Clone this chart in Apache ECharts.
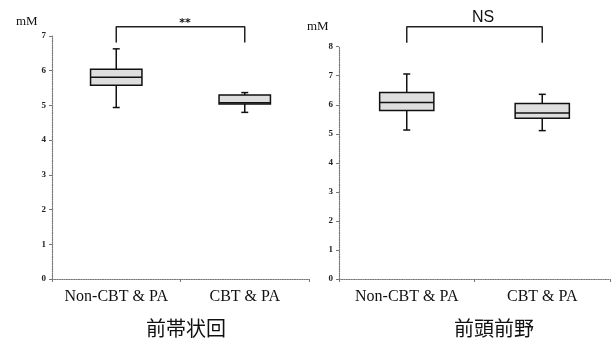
<!DOCTYPE html>
<html>
<head>
<meta charset="utf-8">
<script src="https://cdn.jsdelivr.net/npm/echarts@6/dist/echarts.min.js"></script>
<style>html,body{margin:0;padding:0;background:#fff}#c{width:611px;height:341px}</style>
</head>
<body>
<div id="c"></div>
<script>
// Data
var categories = ['Non-CBT & PA', 'CBT & PA'];
// [min, Q1, median, Q3, max]
var acgBoxes = [
  [4.94, 5.58, 5.81, 6.04, 6.63],
  [4.80, 5.04, 5.08, 5.30, 5.37]
];
var pfcBoxes = [
  [5.13, 5.80, 6.08, 6.42, 7.06],
  [5.11, 5.54, 5.72, 6.04, 6.36]
];
var acgTicks = [0, 1, 2, 3, 4, 5, 6, 7];
var pfcTicks = [0, 1, 2, 3, 4, 5, 6, 7, 8];
var acgTitle = '前帯状回';
var pfcTitle = '前頭前野';
var acgSig = '**';
var pfcSig = 'NS';
var unitLabel = 'mM';

var chart = echarts.init(document.getElementById('c'));

function boxRender(params, api) {
  var x = api.value(0);
  var mn = api.coord([x, api.value(1)]);
  var q1 = api.coord([x, api.value(2)]);
  var md = api.coord([x, api.value(3)]);
  var q3 = api.coord([x, api.value(4)]);
  var mx = api.coord([x, api.value(5)]);
  var bw = api.size([1, 0])[0] * 0.4;
  var cx = mn[0];
  var cap = 3.5;
  var ls = {stroke: '#111', lineWidth: 1.5, fill: null};
  return {
    type: 'group',
    children: [
      {type: 'line', shape: {x1: cx, y1: mx[1], x2: cx, y2: q3[1]}, style: ls},
      {type: 'line', shape: {x1: cx, y1: q1[1], x2: cx, y2: mn[1]}, style: ls},
      {type: 'line', shape: {x1: cx - cap, y1: mx[1], x2: cx + cap, y2: mx[1]}, style: ls},
      {type: 'line', shape: {x1: cx - cap, y1: mn[1], x2: cx + cap, y2: mn[1]}, style: ls},
      {type: 'rect', shape: {x: cx - bw / 2, y: q3[1], width: bw, height: q1[1] - q3[1]},
        style: {fill: '#dedede', stroke: '#111', lineWidth: 1.5}},
      {type: 'line', shape: {x1: cx - bw / 2, y1: md[1], x2: cx + bw / 2, y2: md[1]}, style: ls}
    ]
  };
}

function toCustom(boxes) {
  return boxes.map(function (b, i) { return [i].concat(b); });
}

function yAxisCfg(gi, ticks) {
  return {
    type: 'value', gridIndex: gi, min: ticks[0], max: ticks[ticks.length - 1], interval: 1,
    splitLine: {show: false},
    axisLine: {show: true, lineStyle: {color: '#777', type: 'dotted', width: 1.2}},
    axisTick: {show: true, length: 3, lineStyle: {color: '#777'}},
    axisLabel: {fontFamily: 'Liberation Serif', fontWeight: 'bold', fontSize: 9, color: '#222', margin: 6}
  };
}
function xAxisCfg(gi) {
  return {
    type: 'category', gridIndex: gi, data: categories, boundaryGap: true,
    axisLine: {show: true, lineStyle: {color: '#777', type: 'dotted', width: 1.2}},
    axisTick: {show: true, length: 3, lineStyle: {color: '#777'}},
    axisLabel: {fontFamily: 'Liberation Serif', fontSize: 16, color: '#111', margin: 10,
      interval: 0, hideOverlap: false}
  };
}

var bracketL = [[0, 6.81], [0, 7.27], [1, 7.27], [1, 6.81]];
var bracketR = [[0, 8.14], [0, 8.69], [1, 8.69], [1, 8.14]];

chart.setOption({
  animation: false,
  backgroundColor: '#fff',
  title: [
    {text: acgTitle, left: 181, top: 313, textAlign: 'center',
      textStyle: {fontFamily: 'Noto Sans CJK JP', fontSize: 20, fontWeight: 'normal', color: '#111'}},
    {text: pfcTitle, left: 489, top: 313, textAlign: 'center',
      textStyle: {fontFamily: 'Noto Sans CJK JP', fontSize: 20, fontWeight: 'normal', color: '#111'}},
    {text: unitLabel, left: 11, top: 10,
      textStyle: {fontFamily: 'Liberation Serif', fontSize: 13, fontWeight: 'normal', color: '#111'}},
    {text: unitLabel, left: 302, top: 15,
      textStyle: {fontFamily: 'Liberation Serif', fontSize: 13, fontWeight: 'normal', color: '#111'}},
    {text: acgSig, left: 180, top: 13, textAlign: 'center',
      textStyle: {fontFamily: 'DejaVu Sans', fontSize: 11, fontWeight: 'bold', color: '#111'}},
    {text: pfcSig, left: 478, top: 5, textAlign: 'center',
      textStyle: {fontFamily: 'Liberation Sans', fontSize: 16, fontWeight: 'normal', color: '#111'}}
  ],
  grid: [
    {left: 52, right: 302, top: 36, bottom: 62},
    {left: 339, right: 1, top: 46.7, bottom: 62}
  ],
  xAxis: [xAxisCfg(0), xAxisCfg(1)],
  yAxis: [yAxisCfg(0, acgTicks), yAxisCfg(1, pfcTicks)],
  series: [
    {type: 'custom', xAxisIndex: 0, yAxisIndex: 0, renderItem: boxRender, data: toCustom(acgBoxes),
      encode: {x: 0, y: [1, 2, 3, 4, 5]}, clip: false},
    {type: 'custom', xAxisIndex: 1, yAxisIndex: 1, renderItem: boxRender, data: toCustom(pfcBoxes),
      encode: {x: 0, y: [1, 2, 3, 4, 5]}, clip: false},
    {type: 'line', xAxisIndex: 0, yAxisIndex: 0, data: bracketL, symbol: 'none', clip: false,
      lineStyle: {color: '#222', width: 1.5}},
    {type: 'line', xAxisIndex: 1, yAxisIndex: 1, data: bracketR, symbol: 'none', clip: false,
      lineStyle: {color: '#222', width: 1.5}}
  ]
});
</script>
</body>
</html>
